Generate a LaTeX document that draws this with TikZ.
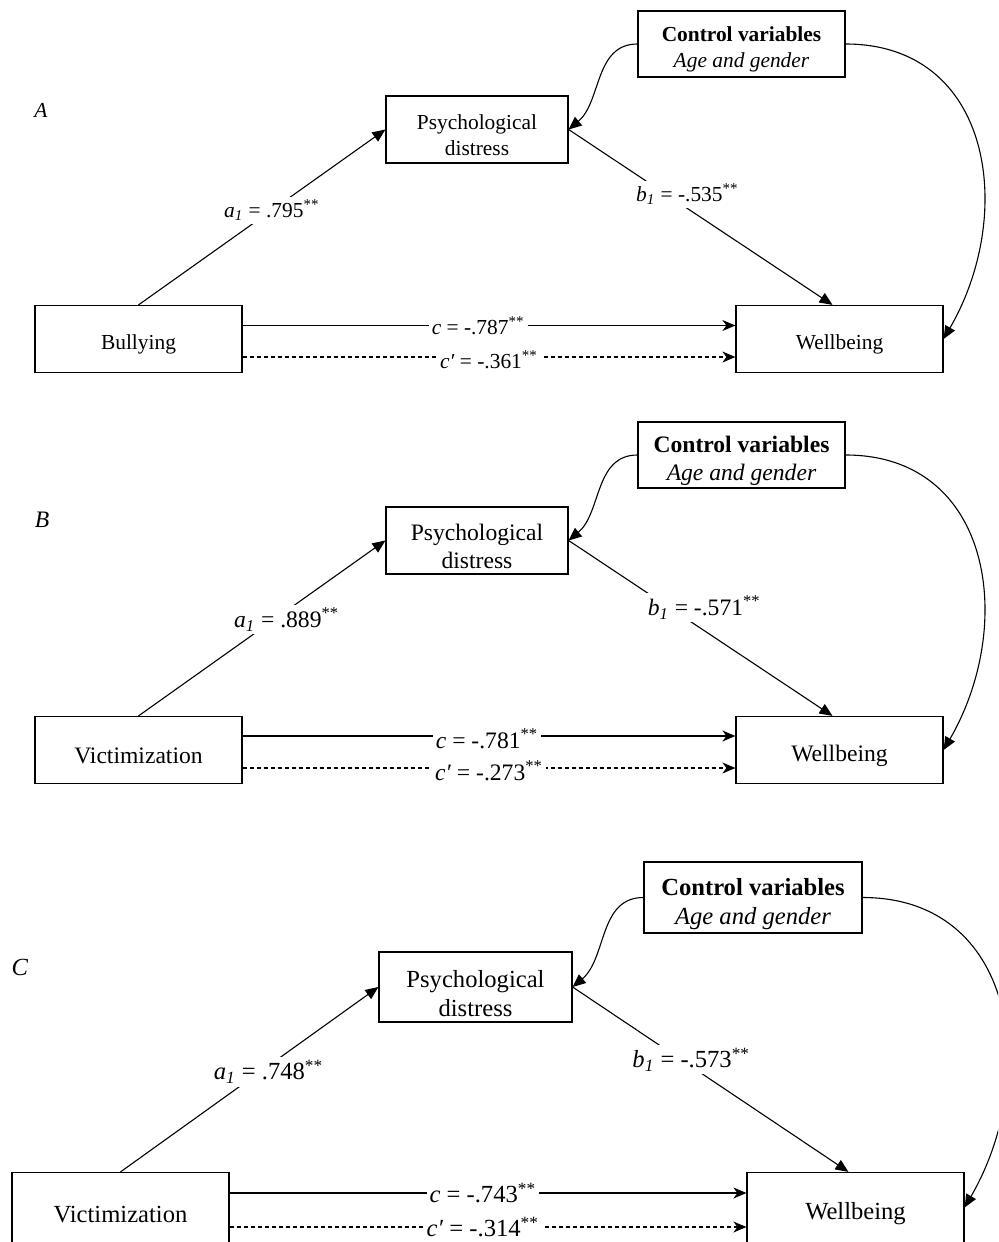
\documentclass[tikz,border=0pt]{standalone}
\usepackage{fontspec}
\setmainfont{Liberation Serif}
\usetikzlibrary{arrows.meta}
\newcommand{\sizeA}{\fontsize{10.7}{13}\selectfont}
\newcommand{\sizeB}{\fontsize{11.8}{14.2}\selectfont}
\newcommand{\sizeC}{\fontsize{12.3}{14.5}\selectfont}
\newcommand{\tstrut}{\rule{0pt}{1.2em}}
\newcommand{\sig}{\textsuperscript{**}}
\begin{document}
\begin{tikzpicture}[
  x=0.5pt, y=0.5pt, line width=0.55pt,
  var/.style={draw, line width=0.6pt, inner sep=0pt, align=center},
  coef/.style={fill=white, inner sep=1.5pt},
  effect/.style={-{Triangle[length=6.5pt,width=5.5pt]}},
  total/.style={-{Stealth[length=6.5pt,width=5.5pt,inset=2pt]}},
  indirect/.style={total, dash pattern=on 2pt off 1.5pt},
  cover/.style={-{Triangle[length=6.5pt,width=5.5pt]}}
]
\clip (0,0) rectangle (998,-1242);

% panel A
\begin{scope}[font=\sizeA]
\node (labA) at (41,-110) {\textit{A}};
\node[var, minimum width=91pt, minimum height=33.5pt] (psyA) at (477,-129.5) {\tstrut Psychological\\distress};
\node[var, minimum width=103.5pt, minimum height=33pt] (ctlA) at (741.5,-44) {\tstrut\textbf{Control variables}\\\textit{Age and gender}};
\node[var, minimum width=103.5pt, minimum height=33.5pt] (bulA) at (138.5,-339) {\tstrut Bullying};
\node[var, minimum width=103.5pt, minimum height=33.5pt] (welA) at (839.5,-339) {\tstrut Wellbeing};

\draw[effect] (bulA.north) -- node[coef, pos=0.54] (aA) {\textit{a}\textsubscript{\textit{1}} = .795\sig} (psyA.west);
\draw[effect] (psyA.east) -- node[coef, pos=0.45, yshift=7pt] (bA) {\textit{b}\textsubscript{\textit{1}} = -.535\sig} ([xshift=-3.5pt]welA.north);
\draw[total] ([yshift=6.75pt]bulA.east) -- node[coef, pos=0.478] (cA) {\textit{c} = -.787\sig} ([yshift=6.75pt]welA.west);
\draw[indirect] ([yshift=-9pt]bulA.east) -- node[coef, pos=0.5, yshift=-1.5pt] (dA) {\textit{c′} = -.361\sig} ([yshift=-9pt]welA.west);
\draw[cover] (ctlA.west) to[out=180, in=40] (psyA.east);
\draw[cover] (ctlA.east) to[out=0, in=60, looseness=1.2] (welA.east);
\end{scope}

% panel B
\begin{scope}[font=\sizeB]
\node (labB) at (42,-520) {\textit{B}};
\node[var, minimum width=91pt, minimum height=33.5pt] (psyB) at (477,-540.5) {\tstrut Psychological\\distress};
\node[var, minimum width=103.5pt, minimum height=33pt] (ctlB) at (741.5,-455) {\tstrut\textbf{Control variables}\\\textit{Age and gender}};
\node[var, minimum width=103.5pt, minimum height=33.5pt] (vicB) at (138.5,-750) {\tstrut Victimization};
\node[var, minimum width=103.5pt, minimum height=33.5pt] (welB) at (839.5,-750) {\tstrut Wellbeing};

\draw[effect] (vicB.north) -- node[coef, pos=0.6, yshift=-4.5pt] (aB) {\textit{a}\textsubscript{\textit{1}} = .889\sig} (psyB.west);
\draw[effect] (psyB.east) -- node[coef, pos=0.514, yshift=11.5pt] (bB) {\textit{b}\textsubscript{\textit{1}} = -.571\sig} ([xshift=-3.5pt]welB.north);
\draw[total] ([yshift=7pt]vicB.east) -- node[coef, pos=0.496, yshift=-1.5pt] (cB) {\textit{c} = -.781\sig} ([yshift=7pt]welB.west);
\draw[indirect] ([yshift=-9pt]vicB.east) -- node[coef, pos=0.5, yshift=-1.5pt] (dB) {\textit{c′} = -.273\sig} ([yshift=-9pt]welB.west);
\draw[cover] (ctlB.west) to[out=180, in=40] (psyB.east);
\draw[cover] (ctlB.east) to[out=0, in=60, looseness=1.2] (welB.east);
\end{scope}

% panel C
\begin{scope}[font=\sizeC]
\node (labC) at (20,-967) {\textit{C}};
\node[var, minimum width=96.5pt, minimum height=35pt] (psyC) at (475.5,-987) {\tstrut Psychological\\distress};
\node[var, minimum width=109pt, minimum height=35.5pt] (ctlC) at (753,-897.5) {\tstrut\textbf{Control variables}\\\textit{Age and gender}};
\node[var, minimum width=108.5pt, minimum height=35pt] (vicC) at (120.5,-1207.5) {\tstrut Victimization};
\node[var, minimum width=108.5pt, minimum height=35pt] (welC) at (855.5,-1207.5) {\tstrut Wellbeing};

\draw[effect] (vicC.north) -- node[coef, pos=0.574, yshift=-3pt] (aC) {\textit{a}\textsubscript{\textit{1}} = .748\sig} (psyC.west);
\draw[effect] (psyC.east) -- node[coef, pos=0.43, yshift=3.5pt] (bC) {\textit{b}\textsubscript{\textit{1}} = -.573\sig} ([xshift=-3.5pt]welC.north);
\draw[total] ([yshift=7.25pt]vicC.east) -- node[coef, pos=0.49] (cC) {\textit{c} = -.743\sig} ([yshift=7.25pt]welC.west);
\draw[indirect] ([yshift=-9.75pt]vicC.east) -- node[coef, pos=0.49, inner ysep=0.5pt] (dC) {\textit{c′} = -.314\sig} ([yshift=-9.75pt]welC.west);
\draw[cover] (ctlC.west) to[out=180, in=40] (psyC.east);
\draw[cover] (ctlC.east) to[out=0, in=60, looseness=1.2] (welC.east);
\end{scope}
\end{tikzpicture}
\end{document}
